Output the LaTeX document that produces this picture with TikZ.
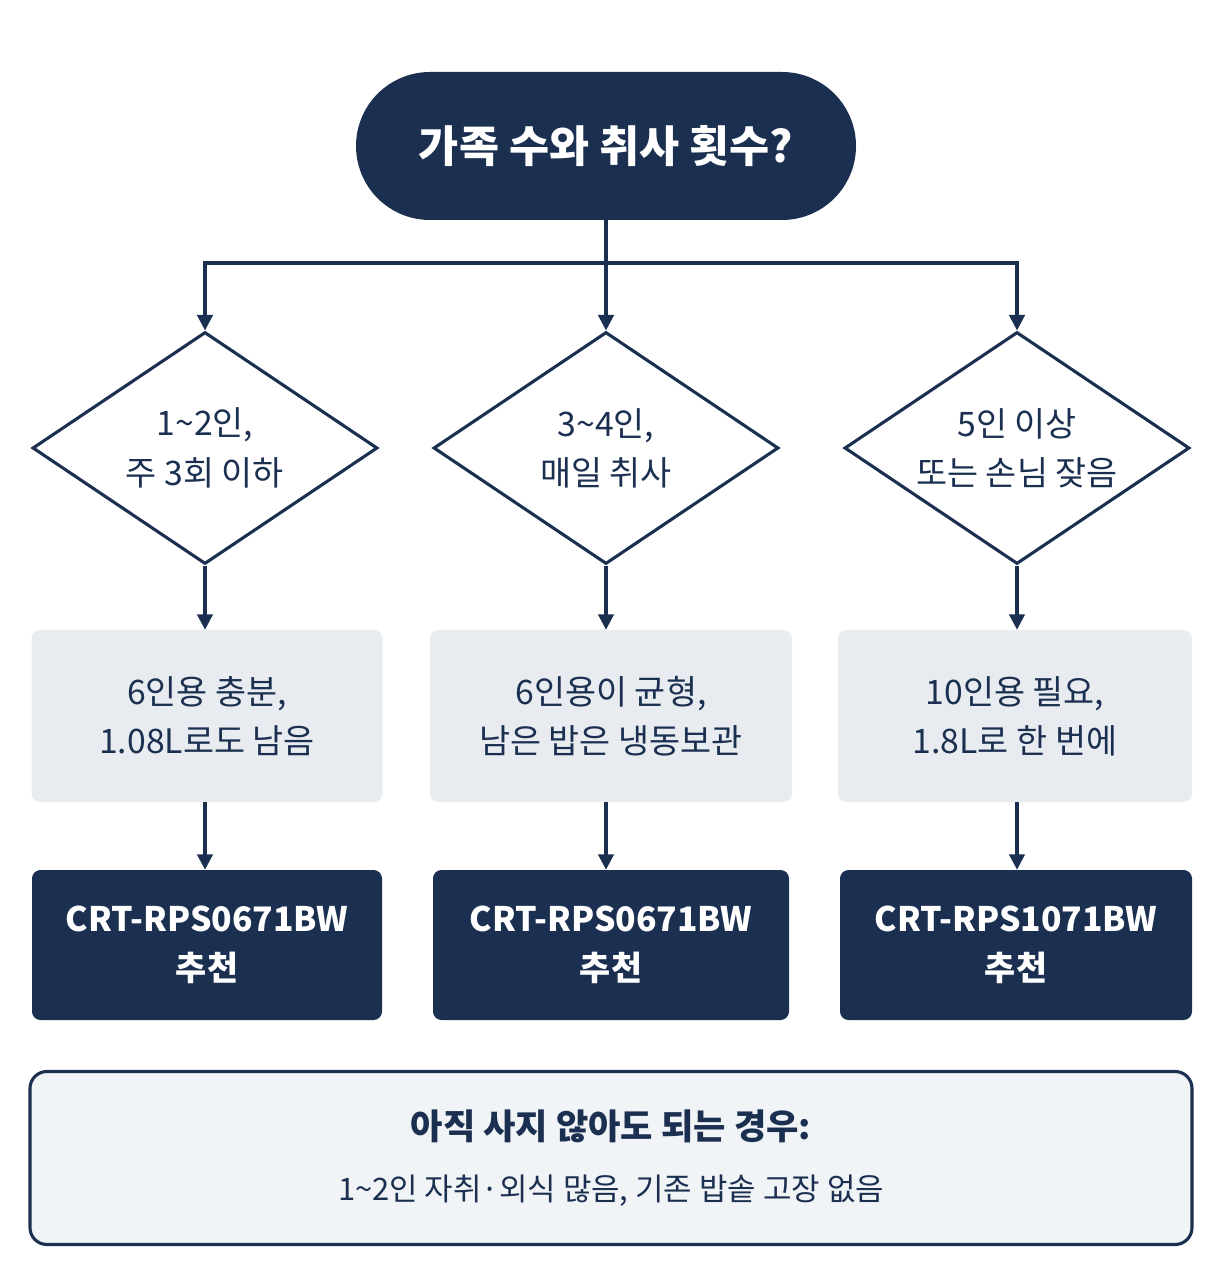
\documentclass[tikz,border=0pt]{standalone}
\usepackage{fontspec}
\setmainfont{Noto Sans CJK KR}
\usetikzlibrary{shapes.geometric,arrows.meta}
\definecolor{navy}{HTML}{1B3050}
\definecolor{pale}{HTML}{E8ECF0}
\tikzset{>={Triangle[length=11pt,width=11pt]},
  line/.style={draw=navy,line width=2.2pt},
  start/.style={rounded corners=74*0.025cm,fill=navy,text=white,font=\fontsize{31}{36}\selectfont\bfseries,
    minimum width=500*0.025cm,minimum height=148*0.025cm},
  cond/.style={diamond,draw=navy,line width=2.2pt,fill=white,aspect=1.49,inner sep=0pt,
    minimum width=345*0.025cm,minimum height=232*0.025cm,align=center,text=navy,
    font=\fontsize{24}{35}\selectfont},
  note/.style={rounded corners=6pt,fill=pale,text=navy,align=center,minimum height=172*0.025cm,
    font=\fontsize{24}{35}\selectfont},
  pick/.style={rounded corners=6pt,fill=navy,text=white,align=center,minimum height=150*0.025cm,
    font=\fontsize{24}{35}\selectfont\bfseries}}
\begin{document}
\begin{tikzpicture}[x=0.025cm,y=-0.025cm]
  \useasboundingbox (0,0) rectangle (1222,1287);

  \node[start] (q) at (606,146) {가족 수와 취사 횟수?};

  \node[cond] (c1) at (205,448) {1\textasciitilde2인,\\주 3회 이하};
  \node[cond] (c2) at (606,448) {3\textasciitilde4인,\\매일 취사};
  \node[cond] (c3) at (1017,448) {5인 이상\\또는 손님 잦음};

  \node[note,minimum width=351*0.025cm] (n1) at (207,716) {6인용 충분,\\1.08L로도 남음};
  \node[note,minimum width=362*0.025cm] (n2) at (611,716) {6인용이 균형,\\남은 밥은 냉동보관};
  \node[note,minimum width=354*0.025cm] (n3) at (1015,716) {10인용 필요,\\1.8L로 한 번에};

  \node[pick,minimum width=350*0.025cm] (p1) at (207,945) {CRT-RPS0671BW\\추천};
  \node[pick,minimum width=356*0.025cm] (p2) at (611,945) {CRT-RPS0671BW\\추천};
  \node[pick,minimum width=352*0.025cm] (p3) at (1016,945) {CRT-RPS1071BW\\추천};

  \node[draw=navy,line width=2.2pt,fill=pale!60,rounded corners=12pt,minimum width=1162*0.025cm,
    minimum height=173*0.025cm,align=center,text=navy] (b) at (611,1158)
    {{\fontsize{25}{34}\selectfont\bfseries 아직 사지 않아도 되는 경우:}\\[22pt]
     {\fontsize{22}{30}\selectfont 1\textasciitilde2인 자취·외식 많음, 기존 밥솥 고장 없음}};

  \coordinate (j) at (606,263);
  \draw[line] (q) -- (j);
  \draw[line,->] (j) -- (c2.north);
  \draw[line,->] (j) -| (c1.north);
  \draw[line,->] (j) -| (c3.north);

  \foreach \i in {1,2,3}{
    \draw[line,->] (c\i.south) -- (c\i.south |- n\i.north);
    \draw[line,->] (c\i.south |- n\i.south) -- (c\i.south |- p\i.north);
  }
\end{tikzpicture}
\end{document}
